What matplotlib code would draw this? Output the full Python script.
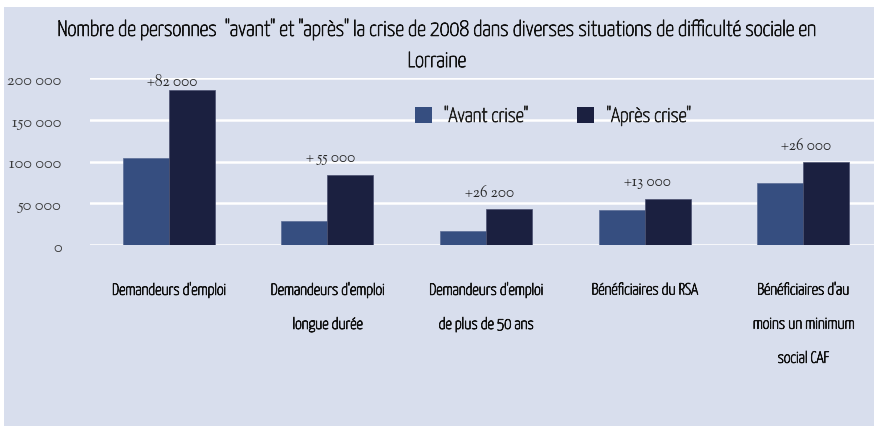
import matplotlib
matplotlib.use("Agg")
import matplotlib.pyplot as plt
from matplotlib.patches import Rectangle, Patch
import matplotlib.patheffects as pe
import numpy as np
from matplotlib import font_manager

categories = ["Demandeurs d'emploi", "Demandeurs d'emploi\nlongue durée",
              "Demandeurs d'emploi\nde plus de 50 ans", "Bénéficiaires du RSA",
              "Bénéficiaires d'au\nmoins un minimum\nsocial CAF"]
avant = [104000, 29000, 17000, 42000, 74000]
apres = [186000, 84000, 43200, 55000, 100000]
deltas = ["+82 000", "+ 55 000", "+26 200", "+13 000", "+26 000"]
series_names = ['"Avant crise"', '"Après crise"']
yticks = [0, 50000, 100000, 150000, 200000]
ytick_labels = ["0", "50 000", "100 000", "150 000", "200 000"]
title = 'Nombre de personnes  "avant" et "après" la crise de 2008 dans diverses situations de difficulté sociale en\nLorraine'

names = {f.name for f in font_manager.fontManager.ttflist}
def first(lst, default):
    for n in lst:
        if n in names:
            return n
    return default
TXT = [first(["Yanone Kaffeesatz", "Pragati Narrow", "PT Sans Narrow"], "DejaVu Sans"), "DejaVu Sans"]
NUM = [first(["Sorts Mill Goudy", "Linden Hill", "Liberation Serif"], "DejaVu Serif"), "DejaVu Serif"]

W, H = 874, 427
fig = plt.figure(figsize=(W/100, H/100), dpi=100)
fig.patch.set_facecolor("white")
renderer = fig.canvas.get_renderer()

def fit(family, s, target_px, base=10.0):
    t = fig.text(0, 0, s, family=family, fontsize=base)
    w = t.get_window_extent(renderer).width
    t.remove()
    return base * target_px / w

s_title = fit(TXT, title.split("\n")[0], 758)
s_cat = fit(TXT, "Demandeurs d'emploi", 114)
s_leg = fit(TXT, series_names[0], 84)
s_tick = fit(NUM, "200 000", 54)
s_ann = fit(NUM, "+82 000", 50)

def bold(color, lw=0.6):
    return [pe.withStroke(linewidth=lw, foreground=color)]

bg = "#d8deed"
fig.patches.append(Rectangle((4/W, 0), 1 - 4/W, (H - 8)/H, transform=fig.transFigure,
                             facecolor=bg, edgecolor="none", zorder=-10))

ax = fig.add_axes([89.5/W, (H-246)/H, 793/W, 167/H])
ax.set_facecolor("none")
x = np.arange(len(categories))
w = 0.29
c_av, c_ap = "#364e80", "#1b2040"
ax.bar(x - w/2, avant, w, color=c_av, edgecolor="#5a6c95", linewidth=0.5, zorder=3)
ax.bar(x + w/2, apres, w, color=c_ap, edgecolor="#4a5070", linewidth=0.5, zorder=3)
ax.set_xlim(-0.5, len(categories) - 0.5)
ax.set_ylim(0, 200000)
ax.set_yticks(yticks)
ax.set_yticklabels(ytick_labels, family=NUM, fontsize=s_tick, color="#3a3a3a")
ax.yaxis.grid(True, color="white", linewidth=1.8, zorder=0)
ax.set_axisbelow(True)
for s in ax.spines.values():
    s.set_visible(False)
ax.tick_params(axis="y", length=0, pad=20)
ax.tick_params(axis="x", length=0, pad=27)
ax.set_xticks(x)
ax.set_xticklabels(categories, family=TXT, fontsize=s_cat, color="#111111",
                   linespacing=2.6, va="top")
for lab in ax.get_xticklabels():
    lab.set_path_effects(bold("#111111", 0.6))
for lab in ax.get_yticklabels():
    lab.set_horizontalalignment("right")

offs = [1, 8, 7, 8, 7]
for i, (v, d) in enumerate(zip(apres, deltas)):
    ax.annotate(d, (x[i] + 0.02, v), xytext=(0, offs[i]), textcoords="offset points",
                ha="center", va="bottom", family=NUM, fontsize=s_ann, color="#262626")

fig.text(0.5, (H - 46)/H, title, ha="center", va="center", family=TXT, fontsize=s_title,
         color="#111111", linespacing=1.7, path_effects=bold("#111111", 0.6))

handles = [Patch(facecolor=c_av, edgecolor="none"), Patch(facecolor=c_ap, edgecolor="none")]
leg = fig.legend(handles, series_names, loc="center", bbox_to_anchor=(553/W, (H - 117)/H),
                 ncol=2, frameon=False, prop={"family": TXT, "size": s_leg},
                 handlelength=0.85, handleheight=0.85, columnspacing=2.4, handletextpad=0.6,
                 labelcolor="#222222")
for t in leg.get_texts():
    t.set_path_effects(bold("#222222", 0.6))

fig.savefig("out.png", dpi=100, facecolor=fig.get_facecolor())
